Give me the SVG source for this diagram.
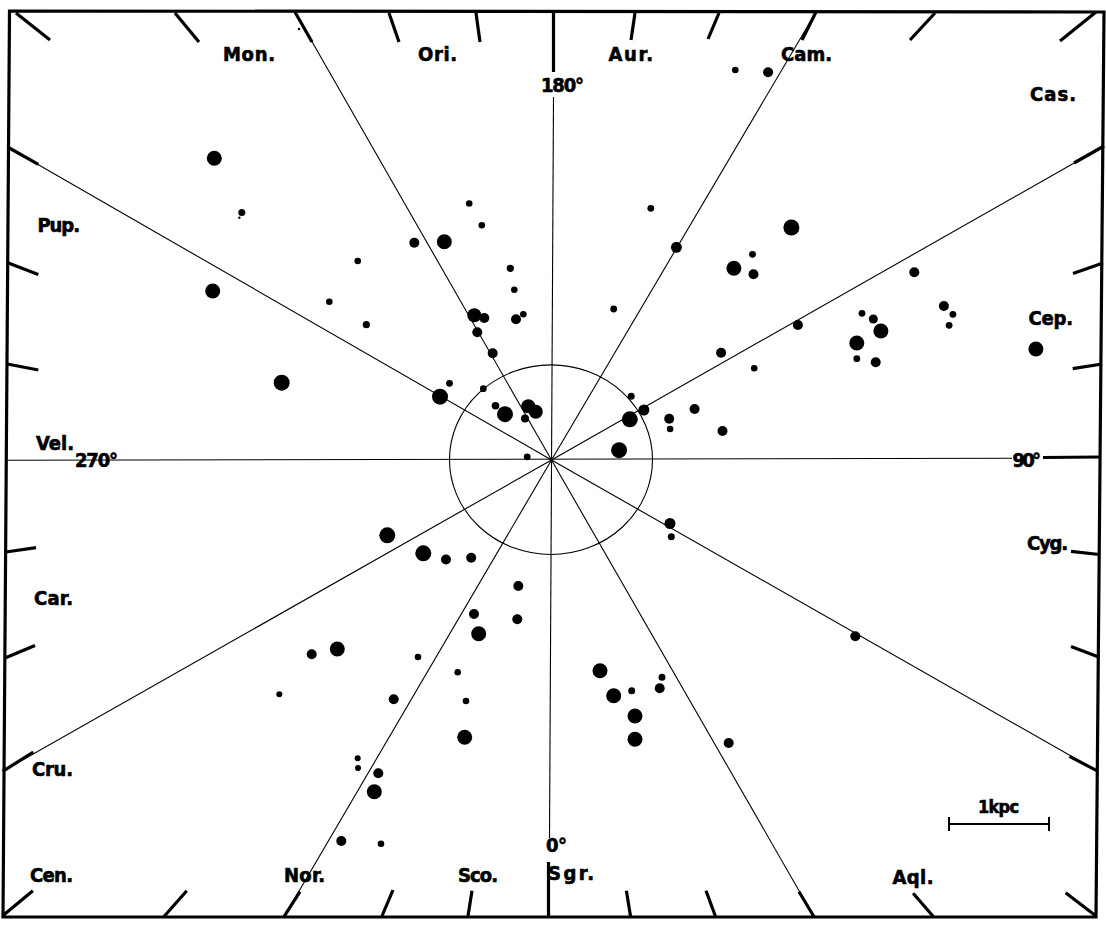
<svg xmlns="http://www.w3.org/2000/svg" width="1106" height="932" viewBox="0 0 1106 932">
<style>
.frame{fill:none;stroke:#000;stroke-width:3.2;stroke-linejoin:miter}
.tick{stroke:#000;stroke-width:3.2;stroke-linecap:butt}
.ray{stroke:#000;stroke-width:1.1;fill:none}
.lbl{font-family:"Liberation Sans Narrow","DejaVu Sans Condensed","Liberation Sans",sans-serif;font-weight:bold;font-size:20px;fill:#000;stroke:#000;stroke-width:0.6}
.L{fill:#000}
</style>
<rect width="1106" height="932" fill="#fff"/>
<g id="frame">
<polygon class="frame" points="9.5,11 1104,12 1096,917 3,917"/>
</g>
<g id="ticks">
<line class="tick" x1="16" y1="13" x2="50" y2="40"/>
<line class="tick" x1="175" y1="13" x2="199" y2="42"/>
<line class="tick" x1="295" y1="12" x2="312" y2="42"/>
<line class="tick" x1="389" y1="13" x2="399" y2="42"/>
<line class="tick" x1="476" y1="13" x2="480" y2="42"/>
<line class="tick" x1="553.5" y1="11" x2="553.5" y2="72"/>
<line class="tick" x1="635" y1="13" x2="631" y2="40"/>
<line class="tick" x1="719" y1="13" x2="708" y2="39"/>
<line class="tick" x1="816" y1="12" x2="802" y2="40"/>
<line class="tick" x1="935" y1="13" x2="910" y2="40"/>
<line class="tick" x1="1096" y1="12" x2="1060" y2="41"/>
<line class="tick" x1="1104" y1="146" x2="1074" y2="163"/>
<line class="tick" x1="1103" y1="263" x2="1073" y2="273.6"/>
<line class="tick" x1="1102" y1="364" x2="1072.7" y2="368.6"/>
<line class="tick" x1="1100" y1="457" x2="1043" y2="457.5"/>
<line class="tick" x1="1099.3" y1="554.5" x2="1071" y2="551.3"/>
<line class="tick" x1="1098.7" y1="657" x2="1071" y2="646.4"/>
<line class="tick" x1="1097.7" y1="771.2" x2="1069.5" y2="756.3"/>
<line class="tick" x1="1096" y1="916" x2="1065.6" y2="892.7"/>
<line class="tick" x1="933.5" y1="916.7" x2="913.1" y2="893.3"/>
<line class="tick" x1="814" y1="916.7" x2="799" y2="891.7"/>
<line class="tick" x1="715.6" y1="916.7" x2="706" y2="890.7"/>
<line class="tick" x1="630.6" y1="916.7" x2="626.4" y2="890.7"/>
<line class="tick" x1="548.5" y1="862" x2="548.5" y2="917"/>
<line class="tick" x1="468" y1="916" x2="472" y2="890.7"/>
<line class="tick" x1="382" y1="916" x2="393" y2="890"/>
<line class="tick" x1="284" y1="916.7" x2="300" y2="891.7"/>
<line class="tick" x1="163.6" y1="917" x2="186.8" y2="890.7"/>
<line class="tick" x1="3.6" y1="915" x2="32.9" y2="890.7"/>
<line class="tick" x1="2.7" y1="771.3" x2="33.3" y2="752"/>
<line class="tick" x1="5" y1="658" x2="35" y2="645.5"/>
<line class="tick" x1="6" y1="552" x2="36" y2="547.6"/>
<line class="tick" x1="7.3" y1="364" x2="38.3" y2="370"/>
<line class="tick" x1="8.3" y1="263" x2="38.3" y2="274.5"/>
<line class="tick" x1="9.3" y1="148" x2="38.3" y2="164.3"/>
</g>
<g id="connectors">
<line class="ray" x1="295" y1="12" x2="551.5" y2="460"/>
<line class="ray" x1="816" y1="12" x2="551.5" y2="460"/>
<line class="ray" x1="1104" y1="146" x2="551.5" y2="460"/>
<line class="ray" x1="1097.7" y1="771.2" x2="551.5" y2="460"/>
<line class="ray" x1="814" y1="916.7" x2="551.5" y2="460"/>
<line class="ray" x1="284" y1="916.7" x2="551.5" y2="460"/>
<line class="ray" x1="2.7" y1="771.3" x2="551.5" y2="460"/>
<line class="ray" x1="9.3" y1="148" x2="551.5" y2="460"/>
<line class="ray" x1="553.5" y1="97" x2="549.5" y2="838"/>
<line class="ray" x1="8" y1="460.3" x2="1012" y2="458.2"/>
<ellipse class="ray" cx="551" cy="459.7" rx="101.5" ry="94.8"/>
</g>
<g id="scale-bar">
<line x1="949" y1="824" x2="1049" y2="824" stroke="#000" stroke-width="2"/>
<line x1="949" y1="817" x2="949" y2="831" stroke="#000" stroke-width="2"/>
<line x1="1049" y1="817" x2="1049" y2="831" stroke="#000" stroke-width="2"/>
</g>
<g id="labels">
<text class="lbl" x="223" y="60.5" textLength="52" lengthAdjust="spacing">Mon.</text>
<text class="lbl" x="418" y="60.5" textLength="39" lengthAdjust="spacing">Ori.</text>
<text class="lbl" x="541" y="91.5" textLength="43" lengthAdjust="spacing">180°</text>
<text class="lbl" x="608.5" y="60.5" textLength="44.5" lengthAdjust="spacing">Aur.</text>
<text class="lbl" x="781" y="60.5" textLength="51" lengthAdjust="spacing">Cam.</text>
<text class="lbl" x="1030" y="101" textLength="46" lengthAdjust="spacing">Cas.</text>
<text class="lbl" x="37.5" y="231.5" textLength="42.5" lengthAdjust="spacing">Pup.</text>
<text class="lbl" x="36" y="449.5" textLength="38" lengthAdjust="spacing">Vel.</text>
<text class="lbl" x="75" y="467" textLength="43" lengthAdjust="spacing">270°</text>
<text class="lbl" x="34" y="605" textLength="39" lengthAdjust="spacing">Car.</text>
<text class="lbl" x="32" y="775.5" textLength="41" lengthAdjust="spacing">Cru.</text>
<text class="lbl" x="30" y="881.5" textLength="43" lengthAdjust="spacing">Cen.</text>
<text class="lbl" x="284" y="881.5" textLength="41" lengthAdjust="spacing">Nor.</text>
<text class="lbl" x="458" y="881.5" textLength="40" lengthAdjust="spacing">Sco.</text>
<text class="lbl" x="546" y="851.5" textLength="21" lengthAdjust="spacing">0°</text>
<text class="lbl" x="548" y="879.5" textLength="46" lengthAdjust="spacing">Sgr.</text>
<text class="lbl" x="892.5" y="884" textLength="41" lengthAdjust="spacing">Aql.</text>
<text class="lbl" x="978" y="813" textLength="41" lengthAdjust="spacing" style="font-size:18px">1kpc</text>
<text class="lbl" x="1028.5" y="325" textLength="44.5" lengthAdjust="spacing">Cep.</text>
<text class="lbl" x="1012.5" y="466.5" textLength="28.5" lengthAdjust="spacing">90°</text>
<text class="lbl" x="1027" y="550" textLength="41" lengthAdjust="spacing">Cyg.</text>
</g>
<g id="clusters">
<g id="large">
<circle class="L" cx="214.3" cy="158.3" r="7.5"/>
<circle class="L" cx="212.7" cy="291" r="7.5"/>
<circle class="L" cx="281.7" cy="382.7" r="8"/>
<circle class="L" cx="444.3" cy="241.7" r="7.5"/>
<circle class="L" cx="474.3" cy="315.3" r="7"/>
<circle class="L" cx="440" cy="396.7" r="8"/>
<circle class="L" cx="505" cy="414.2" r="8"/>
<circle class="L" cx="528.3" cy="406.3" r="7"/>
<circle class="L" cx="535.8" cy="411.8" r="7"/>
<circle class="L" cx="791.4" cy="227.5" r="8"/>
<circle class="L" cx="733.9" cy="268.3" r="7.5"/>
<circle class="L" cx="880.9" cy="331" r="7.5"/>
<circle class="L" cx="856.8" cy="343" r="7.5"/>
<circle class="L" cx="1035.9" cy="349" r="7.5"/>
<circle class="L" cx="629.8" cy="419.3" r="8"/>
<circle class="L" cx="619.1" cy="450.2" r="8"/>
<circle class="L" cx="387.3" cy="535.3" r="8"/>
<circle class="L" cx="423.3" cy="553.3" r="8"/>
<circle class="L" cx="478.7" cy="633.7" r="7.5"/>
<circle class="L" cx="337.3" cy="649" r="7.5"/>
<circle class="L" cx="464.7" cy="737.3" r="7.5"/>
<circle class="L" cx="374.3" cy="791.7" r="7.5"/>
<circle class="L" cx="600" cy="670.7" r="7.5"/>
<circle class="L" cx="613.7" cy="695.7" r="7.5"/>
<circle class="L" cx="635" cy="716" r="7.5"/>
<circle class="L" cx="635" cy="739.3" r="7.5"/>
</g>
<g id="medium">
<circle class="L" cx="768.1" cy="72.3" r="5"/>
<circle class="L" cx="414.3" cy="242.7" r="5"/>
<circle class="L" cx="484.3" cy="318" r="5"/>
<circle class="L" cx="516" cy="319.3" r="5"/>
<circle class="L" cx="477.3" cy="332.3" r="5"/>
<circle class="L" cx="492.7" cy="353.3" r="5"/>
<circle class="L" cx="676.4" cy="247.3" r="5.5"/>
<circle class="L" cx="753.5" cy="274.3" r="5"/>
<circle class="L" cx="914.3" cy="272.3" r="5"/>
<circle class="L" cx="797.9" cy="325" r="5"/>
<circle class="L" cx="721.1" cy="352.7" r="5"/>
<circle class="L" cx="873.3" cy="319" r="4.5"/>
<circle class="L" cx="875.7" cy="362.3" r="5"/>
<circle class="L" cx="943.9" cy="306" r="5"/>
<circle class="L" cx="643.9" cy="410" r="5.5"/>
<circle class="L" cx="669.2" cy="418.8" r="5"/>
<circle class="L" cx="694.6" cy="409" r="5"/>
<circle class="L" cx="722.5" cy="431" r="5"/>
<circle class="L" cx="670" cy="523.5" r="5.5"/>
<circle class="L" cx="855.3" cy="636.3" r="5"/>
<circle class="L" cx="446" cy="559.5" r="5"/>
<circle class="L" cx="471.2" cy="557.7" r="5"/>
<circle class="L" cx="518.3" cy="586" r="5"/>
<circle class="L" cx="474" cy="614" r="5"/>
<circle class="L" cx="517.3" cy="619.3" r="5"/>
<circle class="L" cx="311.7" cy="654.3" r="5"/>
<circle class="L" cx="393.7" cy="699.3" r="5"/>
<circle class="L" cx="378.3" cy="773.3" r="5"/>
<circle class="L" cx="341.3" cy="841" r="5"/>
<circle class="L" cx="659.7" cy="688.3" r="5"/>
<circle class="L" cx="728.7" cy="743" r="5"/>
</g>
<g id="small">
<circle class="L" cx="735.3" cy="70" r="3.3"/>
<circle class="L" cx="241.8" cy="212.5" r="3.5"/>
<circle class="L" cx="239.4" cy="217.8" r="1.2"/>
<circle class="L" cx="469.2" cy="203.5" r="3.3"/>
<circle class="L" cx="481.8" cy="225.3" r="3.3"/>
<circle class="L" cx="357.7" cy="261" r="3.3"/>
<circle class="L" cx="510.3" cy="268.3" r="3.6"/>
<circle class="L" cx="514.3" cy="289.7" r="3.3"/>
<circle class="L" cx="329.3" cy="301.7" r="3.3"/>
<circle class="L" cx="523.3" cy="314.3" r="3.3"/>
<circle class="L" cx="366.3" cy="324.7" r="3.6"/>
<circle class="L" cx="449.5" cy="383.3" r="3.4"/>
<circle class="L" cx="483.3" cy="388.7" r="3.4"/>
<circle class="L" cx="495.5" cy="405.7" r="3.8"/>
<circle class="L" cx="525" cy="418.5" r="4"/>
<circle class="L" cx="527.2" cy="456.8" r="3.4"/>
<circle class="L" cx="650.8" cy="208.3" r="3.4"/>
<circle class="L" cx="752.5" cy="254.3" r="3.4"/>
<circle class="L" cx="613.7" cy="309" r="3.4"/>
<circle class="L" cx="754.2" cy="368.3" r="3.3"/>
<circle class="L" cx="862" cy="313.3" r="3.4"/>
<circle class="L" cx="856.8" cy="358.7" r="3.4"/>
<circle class="L" cx="952.9" cy="314.3" r="3.4"/>
<circle class="L" cx="949.1" cy="325.3" r="3.4"/>
<circle class="L" cx="631.2" cy="396.2" r="3.5"/>
<circle class="L" cx="670.1" cy="429" r="3.3"/>
<circle class="L" cx="671.3" cy="536.7" r="3.5"/>
<circle class="L" cx="418" cy="657" r="3.3"/>
<circle class="L" cx="457.7" cy="672.3" r="3.3"/>
<circle class="L" cx="279.3" cy="694.3" r="3"/>
<circle class="L" cx="466" cy="701" r="3.3"/>
<circle class="L" cx="357.7" cy="758.3" r="3"/>
<circle class="L" cx="358" cy="768" r="3"/>
<circle class="L" cx="381" cy="843.7" r="3.3"/>
<circle class="L" cx="662" cy="677.3" r="3.5"/>
<circle class="L" cx="631.7" cy="690.7" r="3.5"/>
<circle class="L" cx="299" cy="29" r="1.2"/>
</g>
</g>
</svg>
